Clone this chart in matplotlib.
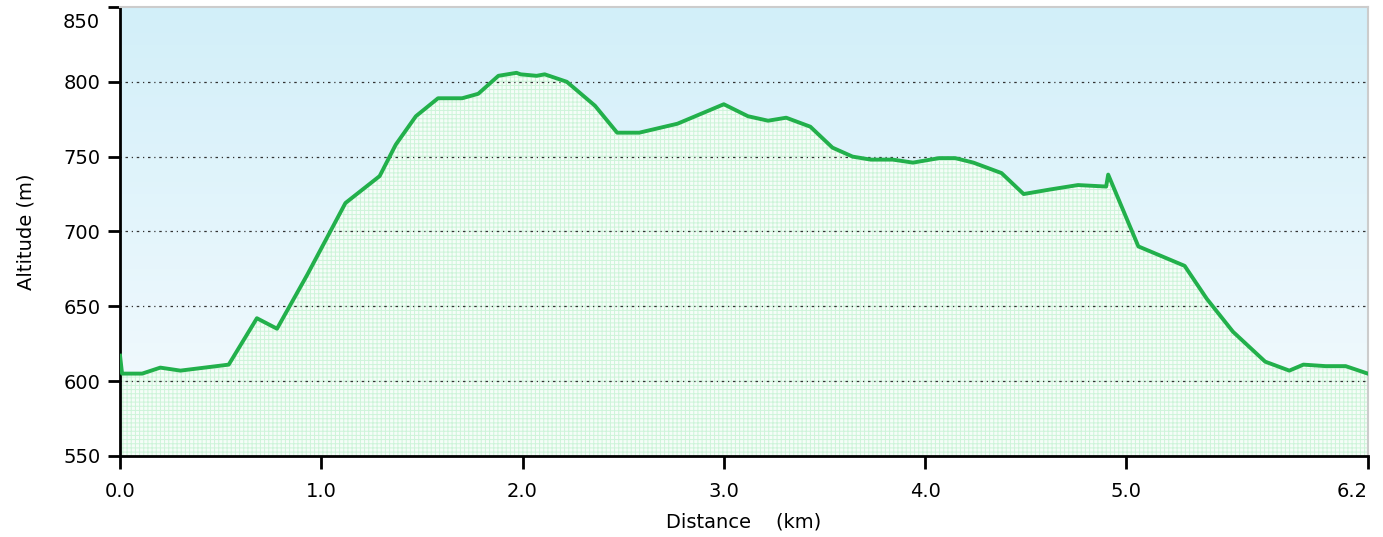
import matplotlib
matplotlib.use('Agg')
import matplotlib.pyplot as plt
import numpy as np

# distance (km) / altitude (m)
dist = [0.0, 0.01, 0.11, 0.20, 0.30, 0.54, 0.68, 0.78, 0.93, 1.12, 1.29, 1.37, 1.47,
        1.58, 1.70, 1.78, 1.88, 1.97, 1.99, 2.07, 2.11, 2.22, 2.36, 2.47, 2.58, 2.77,
        3.00, 3.12, 3.22, 3.31, 3.43, 3.54, 3.64, 3.73, 3.84, 3.94, 4.07, 4.15, 4.24,
        4.38, 4.49, 4.62, 4.76, 4.90, 4.91, 5.06, 5.29, 5.40, 5.53, 5.69, 5.81, 5.88,
        5.99, 6.09, 6.20]
alt = [617, 605, 605, 609, 607, 611, 642, 635, 671, 719, 737, 758, 777,
       789, 789, 792, 804, 806, 805, 804, 805, 800, 784, 766, 766, 772,
       785, 777, 774, 776, 770, 756, 750, 748, 748, 746, 749, 749, 746,
       739, 725, 728, 731, 730, 738, 690, 677, 655, 633, 613, 607, 611,
       610, 610, 605]

xticks = [0, 1, 2, 3, 4, 5, 6.2]
xlabels = ['0.0', '1.0', '2.0', '3.0', '4.0', '5.0', '6.2']
yticks = [550, 600, 650, 700, 750, 800, 850]
ylabels = ['550', '600', '650', '700', '750', '800', '']

fig = plt.figure(figsize=(13.83, 5.37), dpi=100)
ax = fig.add_axes([0.0868, 0.151, 0.9022, 0.836])
ymin, ymax = 550, 850
ax.set_xlim(0, 6.2)
ax.set_ylim(ymin, ymax)

# background gradient
grad = np.linspace(0, 1, 256).reshape(-1, 1)
cmap = matplotlib.colors.LinearSegmentedColormap.from_list('bg', ['#f6fbfe', '#d2eff9'])
ax.imshow(grad, extent=[0, 6.2, ymin, ymax], origin='lower', aspect='auto',
          cmap=cmap, zorder=0)

plt.rcParams['hatch.linewidth'] = 0.7
ax.fill_between(dist, alt, ymin, facecolor='#f5fdf8', edgecolor='#cdf4d9',
                hatch='++++', linewidth=0, zorder=1)

for y in [600, 650, 700, 750, 800]:
    ax.axhline(y, color='#333333', linestyle=(0, (1, 3, 2, 3)), linewidth=0.9, zorder=2)

ax.plot(dist, alt, color='#22b04b', linewidth=2.8, zorder=3)

ax.set_xticks(xticks)
ax.set_xticklabels(xlabels)
ax.set_yticks(yticks)
ax.set_yticklabels(ylabels)
ax.tick_params(direction='out', length=9, width=2, labelsize=14)
ax.tick_params(axis='x', pad=10)
ax.tick_params(axis='y', pad=5)
# top label sits a bit below its tick in the original
ax.annotate('850', xy=(0, ymax), xycoords=('axes fraction', 'data'),
            xytext=(-14.5, -11.5), textcoords='offset points',
            ha='right', va='center', fontsize=14)
ax.get_xticklabels()[-1].set_horizontalalignment('right')
for s in ['left', 'bottom']:
    ax.spines[s].set_linewidth(2)
for s in ['top', 'right']:
    ax.spines[s].set_color('#cccccc')
    ax.spines[s].set_linewidth(1.5)
ax.set_xlabel('Distance    (km)', fontsize=14, labelpad=8)
ax.set_ylabel('Altitude (m)', fontsize=14, labelpad=20)

fig.savefig('out.png', dpi=100)
